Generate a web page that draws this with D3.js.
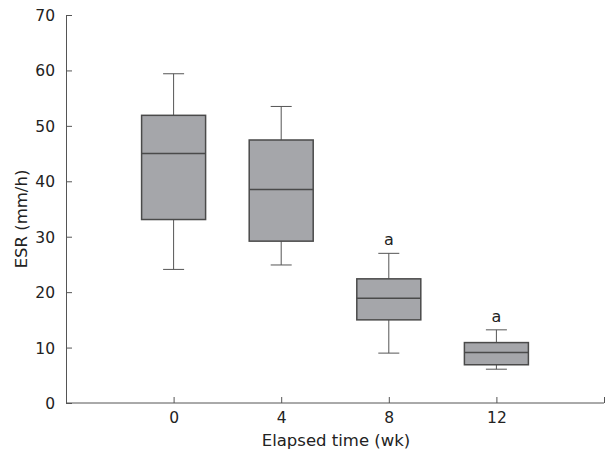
<!DOCTYPE html>
<html><head><meta charset="utf-8">
<script src="https://cdn.jsdelivr.net/npm/d3@7"></script>
<style>body{margin:0;background:#fff}svg{display:block}text{font-family:"DejaVu Sans",Verdana,sans-serif;fill:#222}</style>
</head><body><svg id="c" width="615" height="457"></svg>
<script>
const categories = ["0","4","8","12"];
const whiskerLow = [24.1, 24.9, 9.0, 6.1];
const q1 = [33.1, 29.2, 15.0, 6.9];
const median = [45.0, 38.5, 18.9, 9.1];
const q3 = [51.9, 47.45, 22.4, 10.9];
const whiskerHigh = [59.4, 53.5, 27.0, 13.2];
const sigLabels = ["", "", "a", "a"];
const yTicks = [0,10,20,30,40,50,60,70];

const svg = d3.select("#c");
const axisColor = "#555";
const x = d3.scaleLinear().domain([-1, 4]).range([66, 604]);
const y = d3.scaleLinear().domain([0, 70]).range([403, 15]);
const boxW = 64, capW = 21;

// axes
const yAxis = svg.append("g").attr("transform","translate(66,0)")
  .call(d3.axisRight(y).tickValues(yTicks).tickSize(6).tickFormat(d3.format("d")));
yAxis.selectAll("text").attr("x",-11).attr("text-anchor","end").style("font-size","15.5px").attr("dy","0.35em");
yAxis.selectAll("line,path").attr("stroke",axisColor);

const xAxis = svg.append("g").attr("transform","translate(0,403)")
  .call(d3.axisTop(x).tickValues([0,1,2,3,4]).tickSize(6).tickSizeOuter(0).tickFormat(i => categories[i] !== undefined ? categories[i] : ""));
xAxis.selectAll("text").attr("y",9).attr("dy","0.71em").style("font-size","15.5px");
xAxis.selectAll("line,path").attr("stroke",axisColor);
xAxis.select(".domain").attr("d","M66,0H604");
svg.selectAll("g text").attr("fill","#222");

const data = categories.map((c,i)=>({i, lo:whiskerLow[i], q1:q1[i], med:median[i], q3:q3[i], hi:whiskerHigh[i], s:sigLabels[i]}));
const g = svg.append("g");
const b = g.selectAll("g.box").data(data).join("g").attr("class","box");
b.append("line").attr("x1",d=>x(d.i)).attr("x2",d=>x(d.i)).attr("y1",d=>y(d.hi)).attr("y2",d=>y(d.q3)).attr("stroke",axisColor);
b.append("line").attr("x1",d=>x(d.i)).attr("x2",d=>x(d.i)).attr("y1",d=>y(d.q1)).attr("y2",d=>y(d.lo)).attr("stroke",axisColor);
b.append("line").attr("x1",d=>x(d.i)-capW/2).attr("x2",d=>x(d.i)+capW/2).attr("y1",d=>y(d.hi)).attr("y2",d=>y(d.hi)).attr("stroke",axisColor);
b.append("line").attr("x1",d=>x(d.i)-capW/2).attr("x2",d=>x(d.i)+capW/2).attr("y1",d=>y(d.lo)).attr("y2",d=>y(d.lo)).attr("stroke",axisColor);
b.append("rect").attr("x",d=>x(d.i)-boxW/2).attr("width",boxW).attr("y",d=>y(d.q3)).attr("height",d=>y(d.q1)-y(d.q3))
  .attr("fill","#a5a6aa").attr("stroke","#4a4a4a").attr("stroke-width",1.5);
b.append("line").attr("x1",d=>x(d.i)-boxW/2).attr("x2",d=>x(d.i)+boxW/2).attr("y1",d=>y(d.med)).attr("y2",d=>y(d.med)).attr("stroke","#4a4a4a").attr("stroke-width",1.5);
b.append("text").attr("x",d=>x(d.i)).attr("y",d=>y(d.hi)-8).attr("text-anchor","middle").style("font-size","16px").text(d=>d.s);

svg.append("text").attr("x",336).attr("y",446).attr("text-anchor","middle").style("font-size","16.5px").text("Elapsed time (wk)");
svg.append("text").attr("transform","translate(27,219) rotate(-90)").attr("text-anchor","middle").style("font-size","16.5px").text("ESR (mm/h)");
</script></body></html>
